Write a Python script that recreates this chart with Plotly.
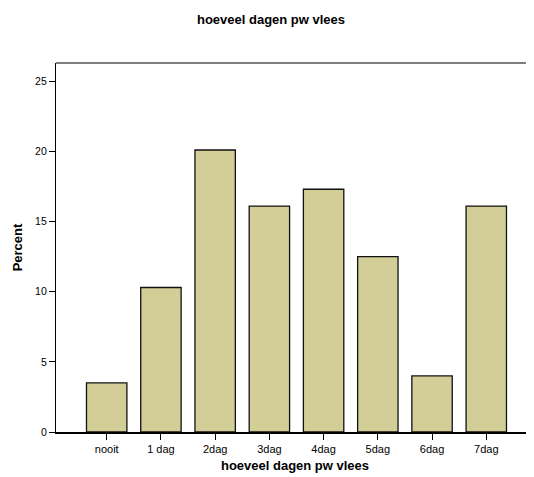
import plotly.graph_objects as go

categories = ["nooit", "1 dag", "2dag", "3dag", "4dag", "5dag", "6dag", "7dag"]
percent = [3.5, 10.3, 20.1, 16.1, 17.3, 12.5, 4.0, 16.1]
y_ticks = [0, 5, 10, 15, 20, 25]

fig = go.Figure()
fig.add_trace(go.Bar(
    x=categories, y=percent,
    marker=dict(color="#D3CE98", line=dict(color="#111111", width=1.3)),
    width=0.745,
))

W, H = 526, 469
font = "Liberation Sans, Arial, sans-serif"
fig.update_layout(
    width=W, height=H,
    margin=dict(l=48, r=0, t=55, b=45),
    paper_bgcolor="white", plot_bgcolor="white",
    showlegend=False,
    font=dict(family=font, size=11, color="black"),
    title=dict(text="<b>hoeveel dagen pw vlees</b>", x=0.5, xanchor="center",
               y=1 - 11 / H, yanchor="middle", font=dict(size=13, family=font)),
    xaxis=dict(
        range=[-0.935, 7.88], showline=True, linecolor="black", linewidth=1.5,
        ticks="outside", ticklen=6, tickcolor="black", tickwidth=1,
        showgrid=False, zeroline=False,
        tickfont=dict(size=11),
        title=dict(text="<b>hoeveel dagen pw vlees</b>", font=dict(size=13), standoff=7),
    ),
    yaxis=dict(
        range=[0, 26.3], tickvals=y_ticks, showline=True, linecolor="black", linewidth=1.2,
        ticks="outside", ticklen=6, tickcolor="black", tickwidth=1,
        showgrid=False, zeroline=False,
        tickfont=dict(size=10.5),
        title=dict(text="<b>Percent</b>", font=dict(size=13), standoff=9),
    ),
    shapes=[dict(type="line", xref="paper", yref="paper", x0=0, x1=1, y0=1, y1=1,
                 line=dict(color="black", width=1.2))],
    bargap=0.255,
)

fig.write_html("out.html")
